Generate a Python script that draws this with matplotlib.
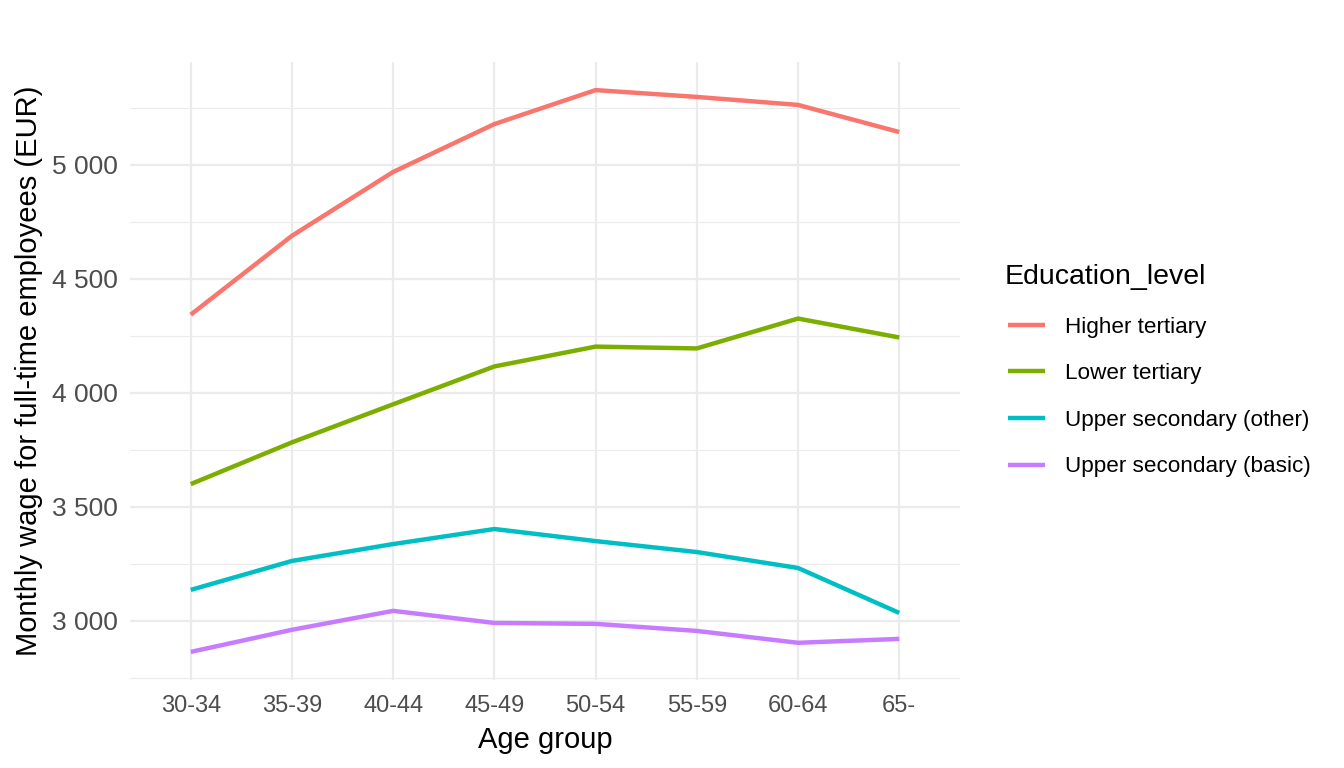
import numpy as np
import matplotlib.pyplot as plt
from matplotlib.ticker import FuncFormatter, MultipleLocator

plt.rcParams['font.family'] = ['Liberation Sans', 'DejaVu Sans']

age_groups = ['30-34', '35-39', '40-44', '45-49', '50-54', '55-59', '60-64', '65-']
levels = ['Higher tertiary', 'Lower tertiary', 'Upper secondary (other)', 'Upper secondary (basic)']
colors = ['#F8766D', '#7CAE00', '#00BFC4', '#C77CFF']

higher_tertiary = [4343, 4689, 4969, 5179, 5328, 5298, 5263, 5144]
lower_tertiary = [3600, 3783, 3950, 4116, 4203, 4195, 4326, 4243]
upper_sec_other = [3136, 3263, 3337, 3403, 3350, 3302, 3232, 3035]
upper_sec_basic = [2864, 2961, 3044, 2991, 2987, 2956, 2904, 2921]
series = [higher_tertiary, lower_tertiary, upper_sec_other, upper_sec_basic]

W, H = 1344, 768
fig = plt.figure(figsize=(W / 100, H / 100), dpi=100)
ax = fig.add_axes([130 / W, 1 - 680 / H, (960 - 130) / W, (680 - 62) / H])

x = np.arange(len(age_groups))
for name, vals, c in zip(levels, series, colors):
    ax.plot(x, vals, color=c, lw=3.2, label=name, solid_capstyle='butt')

allv = np.concatenate(series)
lo, hi = allv.min(), allv.max()
pad = 0.05 * (hi - lo)
ax.set_ylim(lo - pad, hi + pad)
ax.set_xlim(-0.6, len(age_groups) - 1 + 0.6)

ax.yaxis.set_major_locator(MultipleLocator(500))
ax.yaxis.set_minor_locator(MultipleLocator(250))
ax.yaxis.set_major_formatter(FuncFormatter(lambda v, p: f'{int(v):,}'.replace(',', ' ')))
ax.set_xticks(x)
ax.set_xticklabels(age_groups)

ax.grid(True, which='major', color='#EBEBEB', lw=1.6)
ax.grid(True, which='minor', axis='y', color='#EBEBEB', lw=0.8)
ax.set_axisbelow(True)
for s in ax.spines.values():
    s.set_visible(False)
ax.tick_params(axis='both', which='both', length=0, colors='#4D4D4D')
ax.tick_params(axis='y', labelsize=19, pad=9)
ax.tick_params(axis='x', labelsize=17, pad=11)

ax.set_xlabel('Age group', fontsize=21, labelpad=6)
ax.set_ylabel('Monthly wage for full-time employees (EUR)', fontsize=21, labelpad=6)

fig.text(1005 / W, 1 - 277 / H, 'Education_level', fontsize=20.5, ha='left', va='center')
leg = ax.legend(loc='center left', bbox_to_anchor=(1008 / W, 1 - 397 / H),
                bbox_transform=fig.transFigure, frameon=False, fontsize=16.2,
                handlelength=1.65, handletextpad=0.9, labelspacing=1.14,
                borderpad=0, borderaxespad=0)

fig.savefig('out.png', dpi=100)
